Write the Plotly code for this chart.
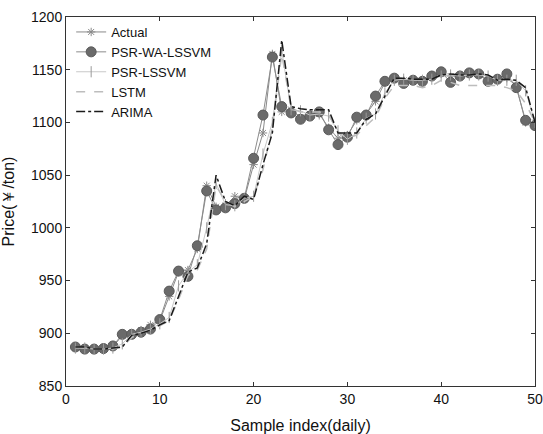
import plotly.graph_objects as go

x = list(range(1, 51))

actual = [887, 885, 885, 886, 887, 898, 900, 903, 908, 912,
          935, 958, 960, 980, 1040, 1020, 1021, 1030, 1027, 1060,
          1090, 1165, 1110, 1112, 1105, 1108, 1108, 1095, 1085, 1088,
          1102, 1108, 1120, 1138, 1142, 1140, 1140, 1140, 1145, 1146,
          1144, 1145, 1146, 1145, 1140, 1141, 1142, 1135, 1100, 1100]

psr_wa_lssvm = [887, 885, 885, 885.5, 888, 899, 899, 901, 904, 913,
                940, 959, 954, 983, 1035, 1017, 1019, 1023, 1028, 1066,
                1107, 1162, 1115, 1109, 1103, 1106, 1110, 1093, 1079, 1086,
                1105, 1107, 1125, 1139, 1142, 1137, 1140, 1139, 1144, 1148,
                1138, 1144, 1147, 1146, 1139, 1141, 1146, 1133, 1102, 1097]

psr_lssvm = [886, 886, 885, 885, 886, 890, 899, 901, 904, 909,
             915, 945, 958, 965, 1000, 1042, 1022, 1021, 1028, 1030,
             1070, 1100, 1168, 1112, 1111, 1107, 1108, 1106, 1092, 1084,
             1090, 1104, 1108, 1128, 1140, 1141, 1140, 1140, 1141, 1144,
             1145, 1144, 1145, 1145, 1144, 1140, 1140, 1140, 1130, 1100]

lstm = [887, 886, 885, 885, 885, 887, 896, 900, 903, 907,
        912, 932, 955, 960, 980, 1040, 1025, 1020, 1025, 1030,
        1055, 1095, 1165, 1113, 1110, 1110, 1110, 1108, 1090, 1085,
        1088, 1097, 1105, 1123, 1135, 1135, 1135, 1133, 1135, 1140,
        1138, 1135, 1135, 1135, 1135, 1135, 1133, 1130, 1118, 1100]

arima = [887, 887, 885, 885, 886, 887, 898, 900, 903, 908,
         912, 935, 958, 962, 985, 1050, 1025, 1021, 1030, 1027,
         1060, 1090, 1178, 1115, 1113, 1112, 1112, 1112, 1090, 1090,
         1090, 1103, 1108, 1125, 1142, 1142, 1141, 1141, 1141, 1145,
         1146, 1145, 1145, 1146, 1145, 1140, 1141, 1140, 1133, 1100]

FONT = "Liberation Sans, Arial, sans-serif"

fig = go.Figure()

fig.add_trace(go.Scatter(
    x=x, y=actual, name="Actual", mode="lines+markers",
    line=dict(color="#8a8a8a", width=1),
    marker=dict(symbol="asterisk-open", size=7, color="#8a8a8a",
                line=dict(color="#8a8a8a", width=1))))

fig.add_trace(go.Scatter(
    x=x, y=psr_wa_lssvm, name="PSR-WA-LSSVM", mode="lines+markers",
    line=dict(color="#8c8c8c", width=1),
    marker=dict(symbol="circle", size=10, color="#6a6a6a",
                line=dict(color="#5a5a5a", width=1))))

fig.add_trace(go.Scatter(
    x=x, y=psr_lssvm, name="PSR-LSSVM", mode="lines+markers",
    line=dict(color="#c8c8c8", width=1),
    marker=dict(symbol="line-ns-open", size=8, color="#9a9a9a",
                line=dict(color="#9a9a9a", width=1))))

fig.add_trace(go.Scatter(
    x=x, y=lstm, name="LSTM", mode="lines",
    line=dict(color="#bdbdbd", width=1.5, dash="dash")))

fig.add_trace(go.Scatter(
    x=x, y=arima, name="ARIMA", mode="lines",
    line=dict(color="#1a1a1a", width=1.5, dash="dashdot")))

axis_common = dict(
    showgrid=False, zeroline=False, showline=True, linecolor="#333333",
    linewidth=1, mirror="ticks", ticks="inside", ticklen=4,
    tickcolor="#333333", automargin=False,
    tickfont=dict(family=FONT, size=14, color="#111111"),
)

fig.update_xaxes(range=[0, 50], tickvals=[0, 10, 20, 30, 40, 50],
                 title=dict(text="Sample index(daily)",
                            font=dict(family=FONT, size=16, color="#111111")),
                 **axis_common)
fig.update_yaxes(range=[850, 1200], tickvals=[850, 900, 950, 1000, 1050, 1100, 1150, 1200],
                 title=dict(text="Price(￥/ton)",
                            font=dict(family=FONT, size=16, color="#111111")),
                 **axis_common)

fig.update_layout(
    width=543, height=434,
    margin=dict(l=66, r=8, t=17, b=48),
    paper_bgcolor="white", plot_bgcolor="white",
    showlegend=True,
    legend=dict(x=0.011, y=1.0, xanchor="left", yanchor="top",
                bgcolor="rgba(255,255,255,0)", borderwidth=0,
                font=dict(family=FONT, size=13, color="#111111"),
                tracegroupgap=0, itemwidth=30),
)

fig.write_html("out.html")
